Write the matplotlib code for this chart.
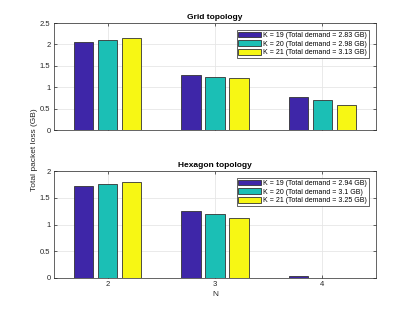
import numpy as np
import matplotlib.pyplot as plt

# data
n_values = [2, 3, 4]
k_labels = ["K = 19", "K = 20", "K = 21"]
colors = ["#3e26a8", "#1bbfb5", "#f7f714"]

grid_loss = [
    [2.05, 1.28, 0.78],
    [2.10, 1.25, 0.70],
    [2.15, 1.21, 0.58],
]
grid_demand = ["2.83 GB", "2.98 GB", "3.13 GB"]

hex_loss = [
    [1.72, 1.26, 0.03],
    [1.75, 1.20, 0.006],
    [1.79, 1.12, 0.005],
]
hex_demand = ["2.94 GB", "3.1 GB", "3.25 GB"]

plt.rcParams["font.family"] = ["Liberation Sans", "DejaVu Sans"]
plt.rcParams["font.size"] = 5.5

fig = plt.figure(figsize=(4.15, 3.12), dpi=100)
ax1 = fig.add_axes([54 / 415, 1 - 130 / 312, 322 / 415, 107 / 312])
ax2 = fig.add_axes([54 / 415, 1 - 278 / 312, 322 / 415, 107 / 312])


def draw(ax, loss, demand, title, ymax):
    x = np.array(n_values, dtype=float)
    width = 0.18
    offsets = [-0.225, 0, 0.225]
    for i in range(3):
        ax.bar(x + offsets[i], loss[i], width, color=colors[i],
               edgecolor="#333333", linewidth=0.6, zorder=3,
               label="%s (Total demand = %s)" % (k_labels[i], demand[i]))
    ax.set_xlim(1.5, 4.5)
    ax.set_ylim(0, ymax)
    ax.set_yticks(np.arange(0, ymax + 0.01, 0.5))
    ax.set_yticklabels(["%g" % v for v in np.arange(0, ymax + 0.01, 0.5)])
    ax.set_xticks(n_values)
    ax.grid(True, color="#e6e6e6", linewidth=0.6, zorder=0)
    ax.tick_params(direction="in", top=True, right=True, length=2.5,
                   width=0.5, colors="#262626", labelcolor="#262626",
                   pad=2.5, labelsize=5.5)
    for s in ax.spines.values():
        s.set_color("#262626")
        s.set_linewidth(0.5)
    ax.set_title(title, fontsize=6, fontweight="bold", pad=3)
    leg = ax.legend(loc="upper right", fontsize=5, fancybox=False,
                    framealpha=1, edgecolor="#262626", borderpad=0.25,
                    labelspacing=0.2, handlelength=3.3, handleheight=0.9,
                    handletextpad=0.3, borderaxespad=1.0)
    leg.get_frame().set_linewidth(0.5)


draw(ax1, grid_loss, grid_demand, "Grid topology", 2.5)
draw(ax2, hex_loss, hex_demand, "Hexagon topology", 2.0)
ax1.set_xticklabels([])
ax2.set_xlabel("N", fontsize=6, color="#262626", labelpad=2)
fig.text(34 / 415, 1 - 150 / 312, "Total packet loss (GB)", rotation=90,
         ha="center", va="center", fontsize=6, color="#262626")

fig.savefig("out.png", dpi=100)
